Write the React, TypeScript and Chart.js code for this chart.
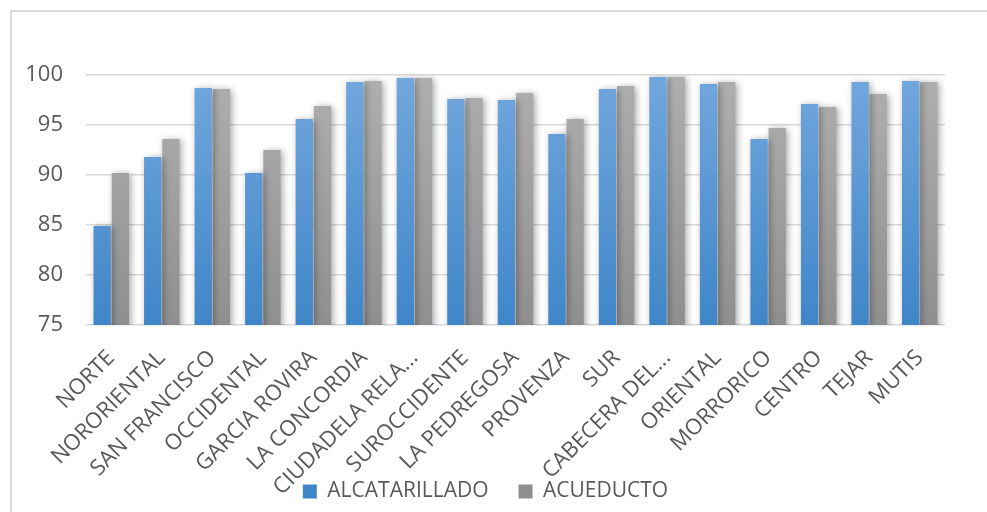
import React, { useEffect, useRef } from "react";
import { Chart, registerables } from "chart.js";

Chart.register(...registerables);

const categories = [
  "NORTE",
  "NORORIENTAL",
  "SAN FRANCISCO",
  "OCCIDENTAL",
  "GARCIA ROVIRA",
  "LA CONCORDIA",
  "CIUDADELA RELA...",
  "SUROCCIDENTE",
  "LA PEDREGOSA",
  "PROVENZA",
  "SUR",
  "CABECERA DEL...",
  "ORIENTAL",
  "MORRORICO",
  "CENTRO",
  "TEJAR",
  "MUTIS",
];

const alcantarillado = [84.9, 91.8, 98.7, 90.2, 95.6, 99.3, 99.7, 97.6, 97.5, 94.1, 98.6, 99.8, 99.1, 93.6, 97.1, 99.3, 99.4];
const acueducto = [90.2, 93.6, 98.6, 92.5, 96.9, 99.4, 99.7, 97.7, 98.2, 95.6, 98.9, 99.8, 99.3, 94.7, 96.8, 98.1, 99.3];

const yTicks = [75, 80, 85, 90, 95, 100];

const FONT = "'Open Sans', 'Noto Sans', sans-serif";
const TEXT = "#595959";

function verticalGradient(top: string, bottom: string, fallback: string) {
  return (ctx: any) => {
    const chart = ctx.chart;
    const area = chart.chartArea;
    if (!area) return fallback;
    const g = chart.ctx.createLinearGradient(0, area.top, 0, area.bottom);
    g.addColorStop(0, top);
    g.addColorStop(1, bottom);
    return g;
  };
}

// Outer frame: thin light-gray border along the top and left edges
const framePlugin = {
  id: "frame",
  beforeDraw(chart: any) {
    const { ctx, width, height } = chart;
    ctx.save();
    ctx.strokeStyle = "#d9d9d9";
    ctx.lineWidth = 2;
    ctx.beginPath();
    ctx.moveTo(11, height);
    ctx.lineTo(11, 11);
    ctx.lineTo(width, 11);
    ctx.stroke();
    ctx.restore();
  },
};

// Soft drop shadow behind every bar
const shadowPlugin = {
  id: "barShadow",
  beforeDatasetsDraw(chart: any) {
    const ctx = chart.ctx;
    ctx.save();
    ctx.shadowColor = "rgba(0,0,0,0.35)";
    ctx.shadowBlur = 7;
    ctx.shadowOffsetX = 2;
    ctx.shadowOffsetY = 1;
  },
  afterDatasetsDraw(chart: any) {
    chart.ctx.restore();
  },
};

export default function App() {
  const canvasRef = useRef<HTMLCanvasElement | null>(null);

  useEffect(() => {
    const canvas = canvasRef.current;
    if (!canvas) return;
    const chart = new Chart(canvas, {
      type: "bar",
      data: {
        labels: categories,
        datasets: [
          {
            label: "ALCATARILLADO",
            data: alcantarillado,
            backgroundColor: verticalGradient("#72a7dd", "#3f86c8", "#5b9bd5"),
            borderWidth: 0,
            categoryPercentage: 0.72,
            barPercentage: 0.95,
          },
          {
            label: "ACUEDUCTO",
            data: acueducto,
            backgroundColor: verticalGradient("#afafaf", "#8f8f8f", "#a5a5a5"),
            borderWidth: 0,
            categoryPercentage: 0.72,
            barPercentage: 0.95,
          },
        ],
      },
      options: {
        responsive: false,
        animation: false,
        layout: { padding: { left: 26, right: 42, top: 75, bottom: 0 } },
        plugins: {
          legend: {
            position: "bottom",
            labels: {
              color: TEXT,
              font: { family: FONT, size: 21 },
              boxWidth: 14,
              boxHeight: 14,
              padding: 30,
            },
          },
          tooltip: { enabled: false },
        },
        scales: {
          x: {
            grid: { display: false },
            border: { display: false },
            ticks: {
              color: TEXT,
              font: { family: FONT, size: 22 },
              autoSkip: false,
              maxRotation: 45,
              minRotation: 45,
              padding: 12,
            },
            afterFit(scale: any) {
              scale.paddingLeft = 0;
              scale.paddingRight = 0;
              scale.height = 126;
              // rotated category names run down past the axis box; keep them unclipped
              scale._computeLabelArea = () => undefined;
            },
          },
          y: {
            min: 75,
            max: 100,
            afterBuildTicks(scale: any) {
              scale.ticks = yTicks.map((v) => ({ value: v }));
            },
            afterFit(scale: any) {
              scale.width = 60;
            },
            grid: { color: "#d9d9d9", lineWidth: 1.5, drawTicks: false },
            border: { display: false },
            ticks: {
              color: TEXT,
              font: { family: FONT, size: 22 },
              padding: 23,
            },
          },
        },
      },
      plugins: [framePlugin, shadowPlugin],
    });
    return () => chart.destroy();
  }, []);

  return (
    <div style={{ position: "fixed", left: 0, top: 0, width: 987, height: 512, background: "#fff" }}>
      <canvas ref={canvasRef} width={987} height={512} style={{ width: 987, height: 512, display: "block" }} />
    </div>
  );
}
